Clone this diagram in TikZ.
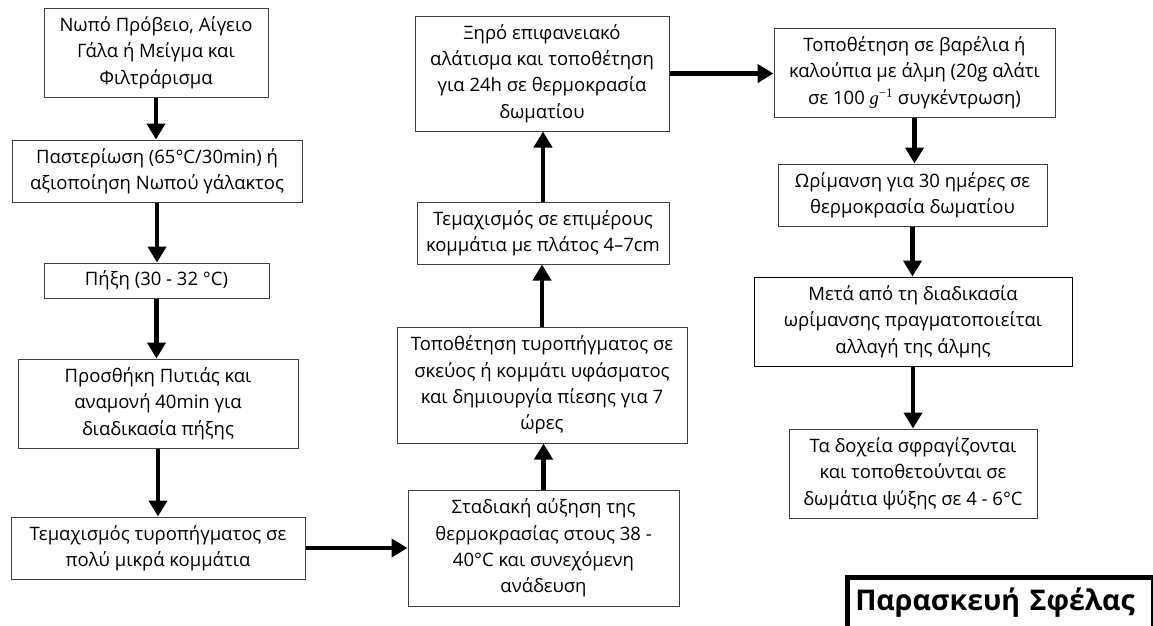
\documentclass[tikz,border=0pt]{standalone}
\usepackage{fontspec}
\setmainfont{Open Sans}
\newfontfamily\gfont{Liberation Serif}
\usetikzlibrary{arrows.meta}
\begin{document}
\begin{tikzpicture}[x=1pt,y=-1pt,
  box/.style={draw=black!75, line width=1pt, rectangle, inner sep=0pt, align=center,
    font=\fontsize{18.5}{26.3}\selectfont},
  arr/.style={line width=4.5pt, -{Triangle[width=18pt,length=16pt]}},
  titlebox/.style={draw=black, line width=4.5pt, rectangle, inner ysep=0pt, inner xsep=8pt,
    text width=290pt, align=left, font=\bfseries\fontsize{28.5}{34}\selectfont}]
\useasboundingbox (0,0) rectangle (1153,625);
\fill[white] (0,0) rectangle (1153,625);

\node[box, minimum width=224pt, minimum height=89pt] (b1) at (156,52.5)
  {Νωπό Πρόβειο, Αίγειο\\Γάλα ή Μείγμα και\\Φιλτράρισμα};
\node[box, minimum width=290pt, minimum height=62pt] (b2) at (157,171)
  {Παστερίωση (65°C/30min) ή\\αξιοποίηση Νωπού γάλακτος};
\node[box, minimum width=225pt, minimum height=35pt] (b3) at (156.5,280.5)
  {Πήξη (30 - 32 °C)};
\node[box, minimum width=280pt, minimum height=89pt] (b4) at (158,403.5)
  {Προσθήκη Πυτιάς και\\αναμονή 40min για\\διαδικασία πήξης};
\node[box, minimum width=294pt, minimum height=62pt] (b5) at (158,548)
  {Τεμαχισμός τυροπήγματος σε\\πολύ μικρά κομμάτια};
\node[box, minimum width=271pt, minimum height=116pt] (b6) at (543.5,548)
  {Σταδιακή αύξηση της\\θερμοκρασίας στους 38 -\\40°C και συνεχόμενη\\ανάδευση};
\node[box, minimum width=290pt, minimum height=116pt] (b7) at (542,385)
  {Τοποθέτηση τυροπήγματος σε\\σκεύος ή κομμάτι υφάσματος\\και δημιουργία πίεσης για 7\\ώρες};
\node[box, minimum width=252pt, minimum height=62pt] (b8) at (543,233)
  {Τεμαχισμός σε επιμέρους\\κομμάτια με πλάτος 4–7cm};
\node[box, minimum width=254pt, minimum height=115pt] (b9) at (542,73.5)
  {Ξηρό επιφανειακό\\αλάτισμα και τοποθέτηση\\για 24h σε θερμοκρασία\\δωματίου};
\node[box, minimum width=281pt, minimum height=89pt] (b10) at (914.5,72.5)
  {Τοποθέτηση σε βαρέλια ή\\καλούπια με άλμη (20g αλάτι\\σε 100 {\gfont\itshape g\textsuperscript{\upshape −1}} συγκέντρωση)};
\node[box, minimum width=269pt, minimum height=62pt] (b11) at (912.5,195)
  {Ωρίμανση για 30 ημέρες σε\\θερμοκρασία δωματίου};
\node[box, draw=black, minimum width=318pt, minimum height=89pt] (b12) at (913,321.5)
  {Μετά από τη διαδικασία\\ωρίμανσης πραγματοποιείται\\αλλαγή της άλμης};
\node[box, minimum width=248pt, minimum height=89pt] (b13) at (913,473.5)
  {Τα δοχεία σφραγίζονται\\και τοποθετούνται σε\\δωμάτια ψύξης σε 4 - 6°C};

\node[titlebox, anchor=north west, minimum height=51pt] (title) at (845,575)
  {Παρασκευή Σφέλας};

\draw[arr] (b1.south) -- (b1.south |- b2.north);
\draw[arr] (b2.south) -- (b2.south |- b3.north);
\draw[arr] (b3.south) -- (b3.south |- b4.north);
\draw[arr] (b4.south) -- (b4.south |- b5.north);
\draw[arr] (b5.east) -- (b5.east -| b6.west);
\draw[arr] (b6.north) -- (b6.north |- b7.south);
\draw[arr] (b7.north) -- (b7.north |- b8.south);
\draw[arr] (b8.north) -- (b8.north |- b9.south);
\draw[arr] (b9.east) -- (b9.east -| b10.west);
\draw[arr] (b10.south) -- (b10.south |- b11.north);
\draw[arr] (b11.south) -- (b11.south |- b12.north);
\draw[arr] (b12.south) -- (b12.south |- b13.north);
\end{tikzpicture}
\end{document}
